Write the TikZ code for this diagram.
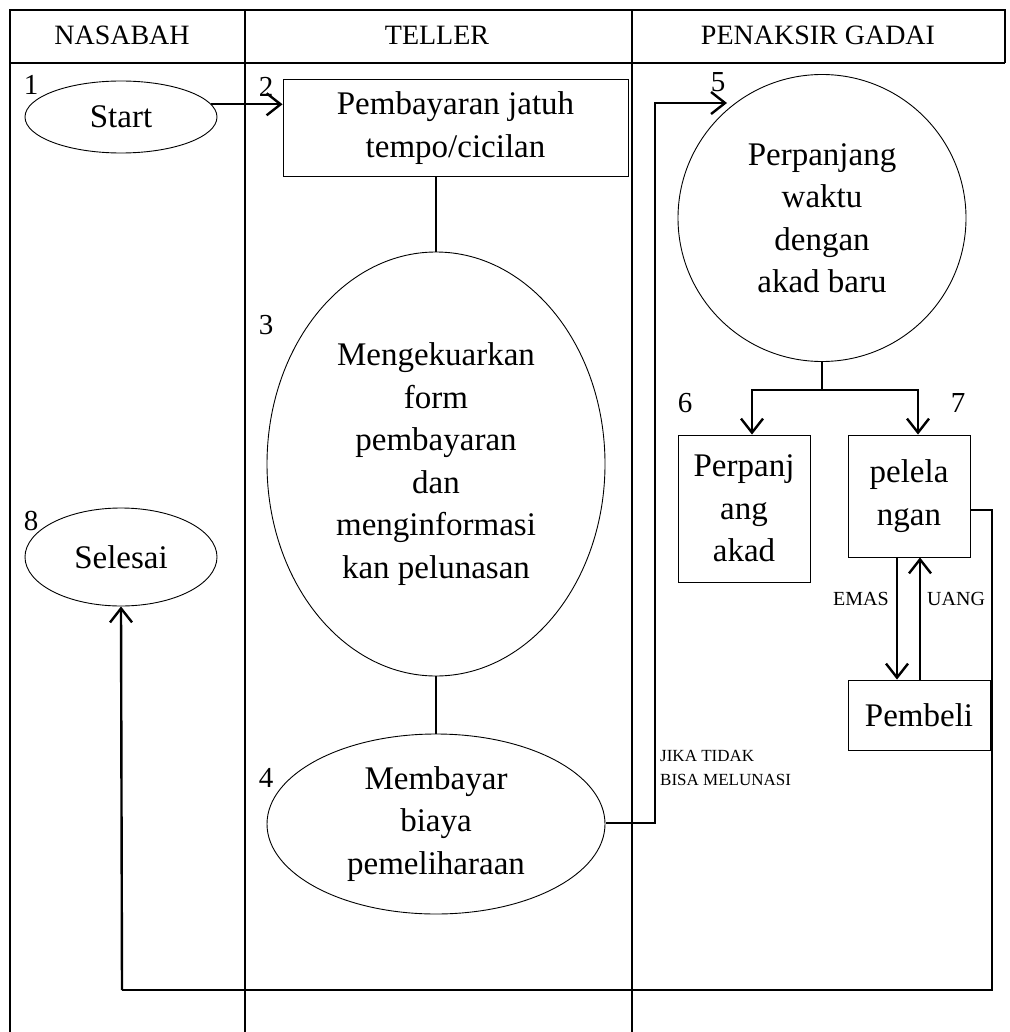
\documentclass[tikz,border=0pt]{standalone}
\usepackage{fontspec}
\setmainfont{Liberation Serif}
\usetikzlibrary{shapes.geometric,arrows.meta}
\begin{document}
\begin{tikzpicture}[x=1pt,y=-1pt,
  lane/.style={line width=2.2pt},
  shp/.style={draw,line width=0.9pt,align=center,font=\fontsize{33}{42.5}\selectfont,inner sep=0pt},
  oval/.style={shp,ellipse},
  boxx/.style={shp,rectangle},
  conn/.style={line width=2.4pt},
  arr/.style={conn,-{Straight Barb[length=14pt,width=22pt,line width=2.4pt]}},
  num/.style={font=\fontsize{29}{29}\selectfont,inner sep=0pt},
  head/.style={font=\fontsize{28}{28}\selectfont,inner sep=0pt},
  small/.style={font=\fontsize{17}{24}\selectfont,inner sep=0pt,align=left},
  lbl/.style={font=\fontsize{20}{20}\selectfont,inner sep=0pt}]
\useasboundingbox (0,0) rectangle (1009,1032);
% lanes
\draw[lane] (10,1032) -- (10,10) -- (1005,10) -- (1005,63);
\draw[lane] (10,63) -- (1005,63);
\draw[lane] (245,10) -- (245,1032);
\draw[lane] (632,10) -- (632,1032);
\node[head] (hn) at (122,35) {NASABAH};
\node[head] (ht) at (437,35) {TELLER};
\node[head] (hp) at (818,35) {PENAKSIR GADAI};
% nodes
\node[oval,minimum width=192pt,minimum height=72pt] (start) at (121,117) {Start};
\node[boxx,minimum width=345pt,minimum height=97pt] (b2) at (455.5,128) {Pembayaran jatuh\\tempo/cicilan};
\node[oval,minimum width=338pt,minimum height=424pt] (e3) at (436,464) {Mengekuarkan\\form\\pembayaran\\dan\\menginformasi\\kan pelunasan};
\node[oval,minimum width=338pt,minimum height=180pt] (e4) at (436,824) {Membayar\\biaya\\pemeliharaan};
\node[oval,minimum width=288pt,minimum height=287pt] (c5) at (822,218) {Perpanjang\\waktu\\dengan\\akad baru};
\node[boxx,minimum width=132pt,minimum height=147pt] (b6) at (744,508.5) {Perpanj\\ang\\akad};
\node[boxx,minimum width=122pt,minimum height=122pt] (b7) at (909,496) {pelela\\ngan};
\node[boxx,minimum width=142pt,minimum height=70pt] (pb) at (919,715) {Pembeli};
\node[oval,minimum width=192pt,minimum height=98pt] (sel) at (121,557) {Selesai};
% numbers
\node[num] (n1) at (31,85) {1};
\node[num] (n2) at (266,87) {2};
\node[num] (n3) at (266,325) {3};
\node[num] (n4) at (266,778) {4};
\node[num] (n5) at (718,82) {5};
\node[num] (n6) at (685,403) {6};
\node[num] (n7) at (958,403) {7};
\node[num] (n8) at (31,521) {8};
% labels
\node[small,anchor=north west] (jk) at (660,750) {JIKA TIDAK\\BISA MELUNASI};
\node[lbl,anchor=east] (em) at (889,599) {EMAS};
\node[lbl,anchor=west] (ua) at (927,599) {UANG};
% coordinates
\coordinate (p4) at (606,823);
\coordinate (k1) at (655,823);
\coordinate (k2) at (655,103);
\coordinate (t5) at (727,103);
\coordinate (br) at (822,390);
\coordinate (bl) at (752,390);
\coordinate (bR) at (918,390);
\coordinate (r7) at (992,510);
\coordinate (r8) at (992,990);
\coordinate (l8) at (122,990);
% connectors
\draw[arr] (start.8) -- (start.8 -| b2.west);
\draw[conn,line width=1.4pt] (e3.north) -- (e3.north |- b2.south);
\draw[conn,line width=1.4pt] (e3.south) -- (e4.north);
\draw[arr] (p4) -- (k1) -- (k2) -- (t5);
\draw[conn,line width=1.6pt] (c5.south) -- (br);
\draw[arr] (br) -- (bl) -- (bl |- b6.north);
\draw[arr] (br) -- (bR) -- (bR |- b7.north);
\draw[conn,line width=1.6pt] (b7.east |- r7) -- (r7) -- (r8) -- (l8);
\draw[arr] (l8) -- (sel.south);
\draw[arr] (b7.south -| 897,0) -- (pb.north -| 897,0);
\draw[arr] (pb.north -| 920,0) -- (b7.south -| 920,0);
\end{tikzpicture}
\end{document}
